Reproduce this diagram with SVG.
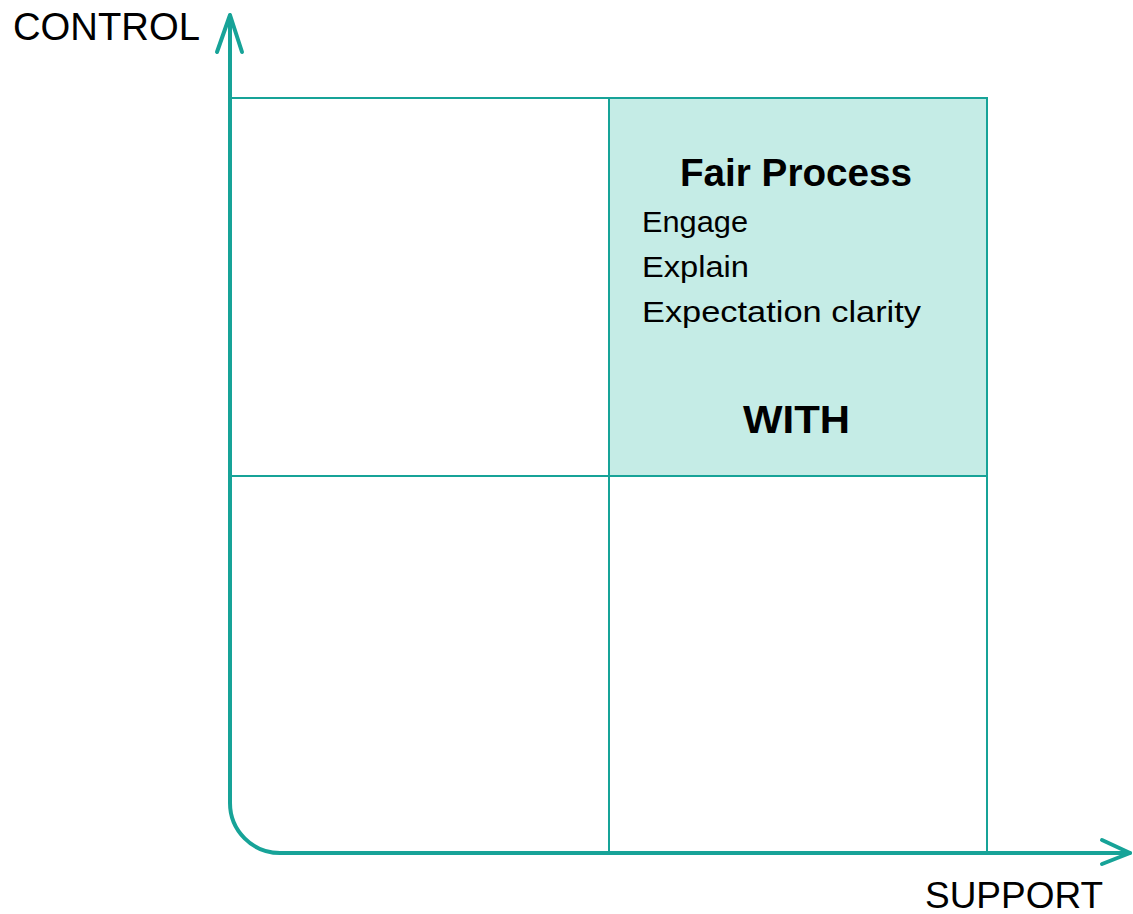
<svg xmlns="http://www.w3.org/2000/svg" width="1133" height="914" viewBox="0 0 1133 914">
  <style>
    .grid { fill: none; stroke: #17a398; stroke-width: 2; }
    .axis { fill: none; stroke: #17a398; stroke-width: 4; stroke-linecap: round; stroke-linejoin: round; }
    .lbl { font-family: "Liberation Sans", Arial, sans-serif; fill: #000; }
    .b { font-weight: bold; }
  </style>

  <!-- quadrant grid -->
  <g id="quadrants">
    <rect id="q-with" x="609" y="98" width="378" height="378" style="fill:#c5ece6" class="grid"/>
    <g id="grid-lines" class="grid">
      <line x1="230" y1="98" x2="987" y2="98"/>
      <line x1="230" y1="476" x2="987" y2="476"/>
      <line x1="609" y1="98" x2="609" y2="853"/>
      <line x1="987" y1="98" x2="987" y2="853"/>
    </g>
  </g>

  <!-- axes -->
  <g id="connectors">
    <path class="axis" d="M230 16 V803 A50 50 0 0 0 280 853 H1130"/>
    <polyline class="axis" points="217,52 230,15 242,52"/>
    <polyline class="axis" points="1102,840 1130,853 1102,864"/>
  </g>

  <g id="axis-labels">
    <text class="lbl" x="13" y="40" font-size="39" textLength="187" lengthAdjust="spacingAndGlyphs">CONTROL</text>
    <text class="lbl" x="925" y="908" font-size="37" textLength="178" lengthAdjust="spacingAndGlyphs">SUPPORT</text>
  </g>

  <g id="with-text">
    <text class="lbl b" x="680" y="186" font-size="39" textLength="232" lengthAdjust="spacingAndGlyphs">Fair Process</text>
    <text class="lbl" x="642" y="232" font-size="29" textLength="106" lengthAdjust="spacingAndGlyphs">Engage</text>
    <text class="lbl" x="642" y="277" font-size="29" textLength="107" lengthAdjust="spacingAndGlyphs">Explain</text>
    <text class="lbl" x="642" y="322" font-size="29" textLength="279" lengthAdjust="spacingAndGlyphs">Expectation clarity</text>
    <text class="lbl b" x="743" y="433" font-size="39" textLength="107" lengthAdjust="spacingAndGlyphs">WITH</text>
  </g>
</svg>
